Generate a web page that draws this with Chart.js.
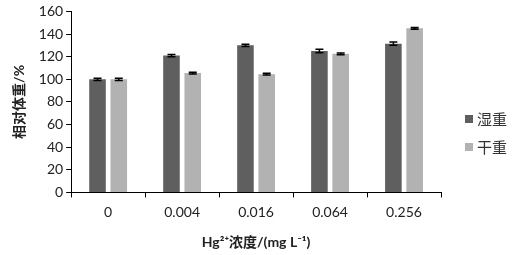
<!DOCTYPE html>
<html>
<head>
<meta charset="utf-8">
<script src="https://cdn.jsdelivr.net/npm/chart.js@4"></script>
<style>
  html, body { margin: 0; padding: 0; background: #fff; }
  #wrap { width: 512px; height: 255px; }
</style>
</head>
<body>
<div id="wrap"><canvas id="chart" width="512" height="255"></canvas></div>
<script>
const categories = ['0', '0.004', '0.016', '0.064', '0.256'];
const wetWeight = [100, 121, 130, 125, 131.5];
const dryWeight = [100, 105.5, 104.5, 122.5, 145];
const wetError = [1, 1, 1, 1.5, 1.5];
const dryError = [1, 0.8, 0.8, 0.8, 0.8];
const yTicks = [0, 20, 40, 60, 80, 100, 120, 140, 160];

// simple error bar plugin
const errorBars = {
  id: 'errorBars',
  afterDatasetsDraw(chart) {
    const ctx = chart.ctx;
    const y = chart.scales.y;
    const errs = [wetError, dryError];
    chart.data.datasets.forEach((ds, i) => {
      const meta = chart.getDatasetMeta(i);
      meta.data.forEach((bar, j) => {
        const v = ds.data[j];
        const top = y.getPixelForValue(v + errs[i][j]);
        const bot = y.getPixelForValue(v - errs[i][j]);
        ctx.save();
        ctx.strokeStyle = '#000';
        ctx.lineWidth = 1.5;
        ctx.beginPath();
        ctx.moveTo(bar.x, top); ctx.lineTo(bar.x, bot);
        ctx.moveTo(bar.x - 4, top); ctx.lineTo(bar.x + 4, top);
        ctx.moveTo(bar.x - 4, bot); ctx.lineTo(bar.x + 4, bot);
        ctx.stroke();
        ctx.restore();
      });
    });
  }
};

// legend drawn to the right of the plot, like the original
const sideLegend = {
  id: 'sideLegend',
  afterDraw(chart) {
    const ctx = chart.ctx;
    const x = chart.chartArea.right + 24;
    ctx.save();
    ctx.font = "15px 'Noto Sans CJK SC', serif";
    ctx.textBaseline = 'middle';
    chart.data.datasets.forEach((ds, i) => {
      const y = 119 + i * 28;
      ctx.fillStyle = ds.backgroundColor;
      ctx.fillRect(x, y - 4, 8, 8);
      ctx.fillStyle = '#333';
      ctx.fillText(ds.label, x + 12, y);
    });
    ctx.restore();
  }
};

const font = "Lato, 'Noto Sans CJK SC', sans-serif";

new Chart(document.getElementById('chart'), {
  type: 'bar',
  data: {
    labels: categories,
    datasets: [{
      label: '湿重',
      data: wetWeight,
      backgroundColor: '#5f5f5f',
      categoryPercentage: 0.575,
      barPercentage: 0.78
    }, {
      label: '干重',
      data: dryWeight,
      backgroundColor: '#b2b2b2',
      categoryPercentage: 0.575,
      barPercentage: 0.78
    }]
  },
  options: {
    responsive: false,
    animation: false,
    layout: { padding: { top: 1, right: 71, left: 7, bottom: 0 } },
    plugins: {
      legend: { display: false },
      tooltip: { enabled: false }
    },
    scales: {
      x: {
        grid: { drawOnChartArea: false, offset: true, tickLength: 5, color: '#000' },
        border: { color: '#000', width: 1 },
        ticks: { color: '#222', font: { family: font, size: 14 }, padding: 7 },
        title: {
          display: true,
          text: 'Hg²⁺浓度/(mg L⁻¹)',
          color: '#222',
          font: { family: font, size: 14, weight: 'bold' },
          padding: { top: 6 }
        }
      },
      y: {
        min: 0,
        max: 160,
        afterBuildTicks(axis) { axis.ticks = yTicks.map(v => ({ value: v })); },
        grid: { drawOnChartArea: false, tickLength: 5, color: '#000' },
        border: { color: '#000', width: 1 },
        ticks: { color: '#222', font: { family: font, size: 14 }, padding: 3 },
        title: {
          display: true,
          text: '相对体重/%',
          color: '#222',
          font: { family: font, size: 14, weight: 'bold' },
          padding: { bottom: 8 }
        }
      }
    }
  },
  plugins: [errorBars, sideLegend]
});
</script>
</body>
</html>
